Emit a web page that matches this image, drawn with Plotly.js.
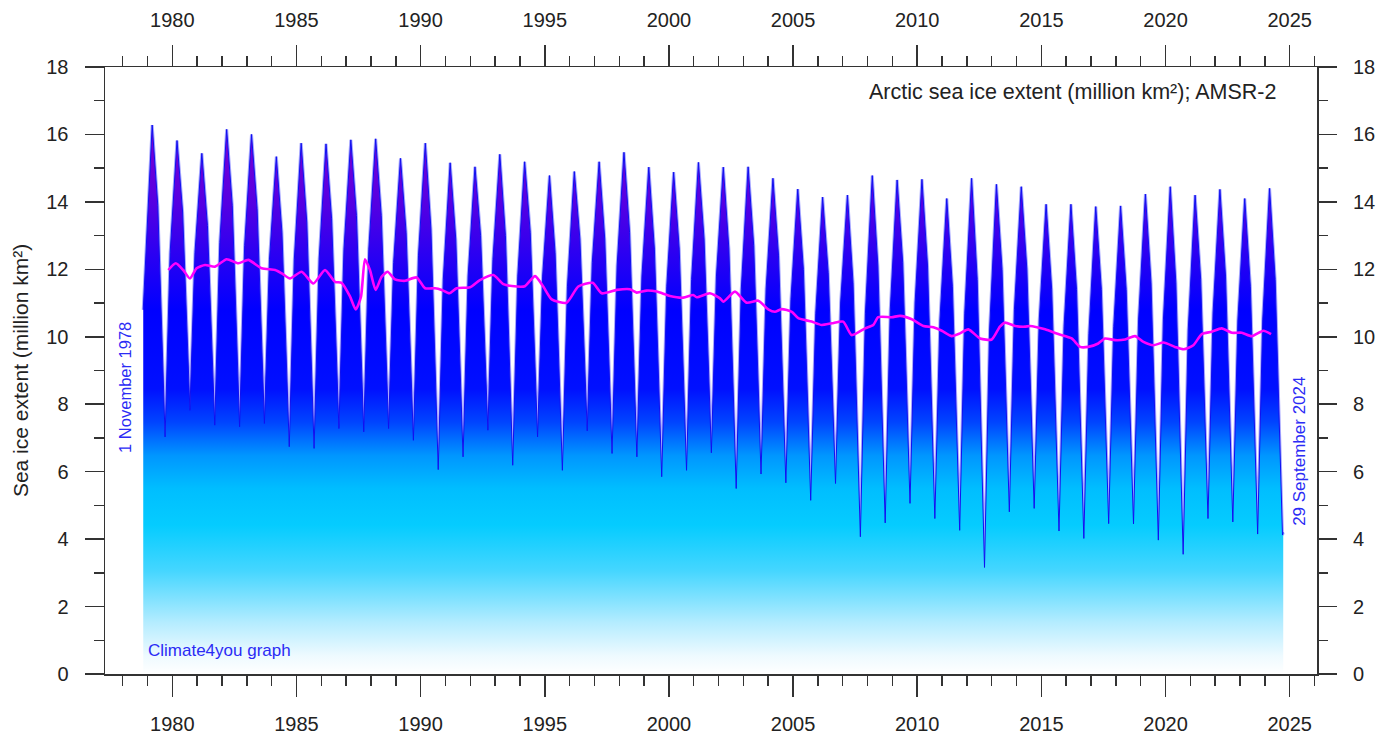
<!DOCTYPE html>
<html>
<head>
<meta charset="utf-8">
<script src="https://cdn.plot.ly/plotly-3.0.1.min.js"></script>
<style>
  html, body { margin: 0; padding: 0; background: #ffffff; }
  #chart { width: 1379px; height: 734px; }
</style>
</head>
<body>
<div id="chart"></div>
<script>
// ---- Data (read / estimated from the reference picture) ----
const seasonYears = [1979,1980,1981,1982,1983,1984,1985,1986,1987,1988,1989,1990,1991,1992,1993,1994,1995,1996,1997,1998,1999,2000,2001,2002,2003,2004,2005,2006,2007,2008,2009,2010,2011,2012,2013,2014,2015,2016,2017,2018,2019,2020,2021,2022,2023,2024];
// annual maximum extent (about 10 March), million km2
const annualMax = [16.28,15.82,15.44,16.15,16.00,15.34,15.74,15.72,15.84,15.87,15.29,15.74,15.16,15.04,15.41,15.19,14.78,14.90,15.19,15.47,15.03,14.88,15.17,15.03,15.04,14.70,14.38,14.14,14.20,14.78,14.65,14.67,14.10,14.70,14.52,14.45,13.93,13.93,13.86,13.88,14.23,14.45,14.20,14.37,14.10,14.40];
// extent around 1 June, million km2
const juneValue = [13.9,13.7,13.3,13.9,13.8,13.1,13.4,13.5,13.6,13.6,13.1,13.2,12.9,13.0,13.0,13.1,12.5,12.9,12.9,13.1,12.6,12.6,12.9,12.6,12.7,12.4,12.0,11.9,11.6,12.1,12.2,12.1,11.5,11.7,12.0,12.0,11.4,11.4,11.4,11.4,11.6,11.6,11.7,11.8,11.5,11.7];
// annual minimum extent (mid September), million km2
const annualMin = [7.03,7.82,7.38,7.33,7.43,6.74,6.69,7.28,7.18,7.28,6.93,6.06,6.44,7.23,6.19,7.03,6.04,7.21,6.54,6.44,5.85,6.04,6.56,5.50,5.93,5.67,5.15,5.65,4.07,4.48,5.06,4.61,4.26,3.16,4.81,4.91,4.24,4.02,4.46,4.45,3.97,3.55,4.61,4.51,4.15,4.12];
// extent around 1 December (1979-2023), million km2
const decemberValue = [12.5,12.5,12.8,12.7,12.3,12.3,12.3,12.6,12.6,12.2,12.4,11.7,11.8,12.3,11.8,11.8,11.5,12.2,12.1,11.8,11.5,11.7,11.8,11.4,11.4,11.1,10.7,11.0,10.7,10.8,11.0,10.5,10.7,10.2,10.8,10.5,10.3,10.1,10.3,10.5,10.5,10.2,10.7,10.5,10.5];
const maxTiming = 0.19;   // ~10 March
const juneTiming = 0.415; // ~1 June
const minTiming = 0.71;   // ~15 September
const decTiming = 0.915;  // ~1 December
const firstDate = 1978.83, firstValue = 10.8;   // 1 November 1978
const lastDate = 2024.74, lastValue = 4.2;      // 29 September 2024

// 12-month running mean (magenta)
const runDates = [1979.84,1980.14,1980.44,1980.71,1980.98,1981.32,1981.72,1982.19,1982.66,1983.06,1983.60,1984.14,1984.41,1984.74,1985.21,1985.68,1986.15,1986.55,1986.82,1987.16,1987.39,1987.60,1987.76,1987.96,1988.19,1988.43,1988.67,1988.97,1989.37,1989.84,1990.18,1990.58,1990.85,1991.16,1991.45,1991.99,1992.39,1992.93,1993.33,1993.87,1994.20,1994.61,1994.94,1995.28,1995.88,1996.35,1996.93,1997.29,1997.90,1998.43,1998.70,1999.10,1999.51,2000.04,2000.58,2000.98,2001.12,2001.65,2002.06,2002.19,2002.66,2003.13,2003.60,2004.00,2004.27,2004.54,2004.95,2005.21,2005.75,2006.15,2006.56,2007.02,2007.36,2007.90,2008.23,2008.43,2008.97,2009.31,2009.78,2010.25,2010.65,2010.99,2011.39,2011.72,2012.06,2012.53,2013.00,2013.33,2013.54,2013.94,2014.34,2014.54,2015.15,2015.68,2016.22,2016.56,2016.89,2017.29,2017.56,2017.97,2018.37,2018.77,2019.11,2019.51,2019.92,2020.38,2020.73,2021.12,2021.46,2021.86,2022.26,2022.67,2023.07,2023.47,2023.94,2024.25];
const runValues = [11.98,12.18,11.98,11.73,12.03,12.13,12.08,12.30,12.18,12.28,12.03,11.98,11.88,11.73,11.93,11.58,11.98,11.63,11.60,11.19,10.81,11.19,12.30,11.98,11.39,11.78,11.93,11.70,11.66,11.76,11.44,11.44,11.39,11.29,11.44,11.47,11.68,11.83,11.56,11.49,11.50,11.80,11.49,11.11,11.01,11.49,11.60,11.29,11.39,11.41,11.31,11.37,11.34,11.21,11.16,11.24,11.17,11.29,11.14,11.04,11.34,11.01,11.07,10.81,10.74,10.82,10.74,10.55,10.45,10.35,10.40,10.45,10.05,10.25,10.35,10.58,10.58,10.62,10.52,10.32,10.28,10.18,10.02,10.10,10.22,9.95,9.92,10.30,10.42,10.32,10.30,10.32,10.22,10.08,9.95,9.70,9.70,9.80,9.95,9.90,9.92,10.02,9.85,9.75,9.83,9.70,9.63,9.75,10.08,10.15,10.25,10.12,10.12,10.02,10.18,10.08];

const yTicks = [0,2,4,6,8,10,12,14,16,18];
const xTicks = [1980,1985,1990,1995,2000,2005,2010,2015,2020,2025];

// ---- Build the seasonal series ----
const sx = [firstDate], sy = [firstValue];
seasonYears.forEach((yr, i) => {
  sx.push(yr + maxTiming); sy.push(annualMax[i]);
  sx.push(yr + juneTiming); sy.push(juneValue[i]);
  sx.push(yr + minTiming); sy.push(annualMin[i]);
  if (i < decemberValue.length) { sx.push(yr + decTiming); sy.push(decemberValue[i]); }
});
sx.push(lastDate); sy.push(lastValue);

const font = 'Arial, "Liberation Sans", sans-serif';
const axisColor = '#333333';

const haloTrace = {
  x: sx, y: sy, type: 'scatter', mode: 'lines',
  line: { color: '#a8a8ff', width: 3 }, hoverinfo: 'skip', showlegend: false
};

const extentTrace = {
  x: sx, y: sy, type: 'scatter', mode: 'lines',
  line: { color: '#1010f0', width: 1 },
  fill: 'tozeroy',
  fillgradient: {
    type: 'vertical', start: 0, stop: 18,
    colorscale: [
      [0.000, '#ffffff'],
      [0.030, '#eefaff'],
      [0.085, '#b4ecff'],
      [0.170, '#45d6ff'],
      [0.245, '#05ccff'],
      [0.305, '#00beff'],
      [0.360, '#0096ff'],
      [0.415, '#0044ff'],
      [0.470, '#0010ff'],
      [0.600, '#0000ff'],
      [0.690, '#2a00f2'],
      [0.775, '#5500e2'],
      [0.880, '#7800d2'],
      [1.000, '#8a00c8']
    ]
  },
  hoverinfo: 'x+y', showlegend: false
};

const runTrace = {
  x: runDates, y: runValues, type: 'scatter', mode: 'lines',
  line: { color: '#ff00ff', width: 2.6, shape: 'spline', smoothing: 0.6 },
  showlegend: false
};

const dummy = { x: [1980], y: [0], xaxis: 'x2', yaxis: 'y2', type: 'scatter', mode: 'markers',
  marker: { opacity: 0 }, hoverinfo: 'skip', showlegend: false };

const xRange = [1977.29, 2026.1];
const xCommon = {
  range: xRange, tickmode: 'array', tickvals: xTicks, ticktext: xTicks.map(String),
  ticks: 'outside', ticklen: 21, tickwidth: 1.5, tickcolor: axisColor,
  minor: { dtick: 1, tick0: 1980, ticks: 'outside', ticklen: 10, tickwidth: 1.5, tickcolor: axisColor, showgrid: false },
  showline: true, linecolor: axisColor, linewidth: 1.5,
  showgrid: false, zeroline: false,
  tickfont: { family: font, size: 20, color: '#222222' },
  ticklabelstandoff: 10, fixedrange: true
};
const yCommon = {
  range: [0, 18], tickmode: 'array', tickvals: yTicks, ticktext: yTicks.map(String),
  ticks: 'outside', ticklen: 19, tickwidth: 1.5, tickcolor: axisColor,
  minor: { dtick: 1, tick0: 0, ticks: 'outside', ticklen: 10, tickwidth: 1.5, tickcolor: axisColor, showgrid: false },
  showline: true, linecolor: axisColor, linewidth: 1.5,
  showgrid: false, zeroline: false,
  tickfont: { family: font, size: 20, color: '#222222' },
  ticklabelstandoff: 12, fixedrange: true
};

const layout = {
  width: 1379, height: 734,
  margin: { l: 105, r: 62, t: 67, b: 60, pad: 0 },
  paper_bgcolor: '#ffffff', plot_bgcolor: '#ffffff',
  font: { family: font, color: '#222222' },
  showlegend: false,
  xaxis: Object.assign({}, xCommon, { side: 'bottom', anchor: 'y', mirror: true }),
  xaxis2: Object.assign({}, xCommon, { side: 'top', overlaying: 'x', anchor: 'y2', showline: false }),
  yaxis: Object.assign({}, yCommon, {
    side: 'left', anchor: 'x', mirror: true,
    title: { text: 'Sea ice extent (million km²)', font: { family: font, size: 21, color: '#222222' }, standoff: 12 }
  }),
  yaxis2: Object.assign({}, yCommon, { side: 'right', overlaying: 'y', anchor: 'x2', showline: false }),
  annotations: [
    { text: 'Arctic sea ice extent (million km²); AMSR-2', xref: 'paper', yref: 'paper',
      x: 0.968, y: 0.959, xanchor: 'right', yanchor: 'middle', showarrow: false,
      font: { family: font, size: 21.5, color: '#222222' } },
    { text: '1 November 1978', xref: 'paper', yref: 'paper', textangle: -90,
      x: 0.0165, y: 0.473, xanchor: 'center', yanchor: 'middle', showarrow: false,
      font: { family: font, size: 16.5, color: '#2b2bf5' } },
    { text: '29 September 2024', xref: 'paper', yref: 'paper', textangle: -90,
      x: 0.986, y: 0.366, xanchor: 'center', yanchor: 'middle', showarrow: false,
      font: { family: font, size: 17, color: '#2b2bf5' } },
    { text: 'Climate4you graph', xref: 'paper', yref: 'paper',
      x: 0.0338, y: 0.038, xanchor: 'left', yanchor: 'middle', showarrow: false,
      font: { family: font, size: 17, color: '#2b2bf5' } }
  ]
};

Plotly.newPlot('chart', [haloTrace, extentTrace, runTrace, dummy], layout, { displayModeBar: false, staticPlot: true });
</script>
</body>
</html>
